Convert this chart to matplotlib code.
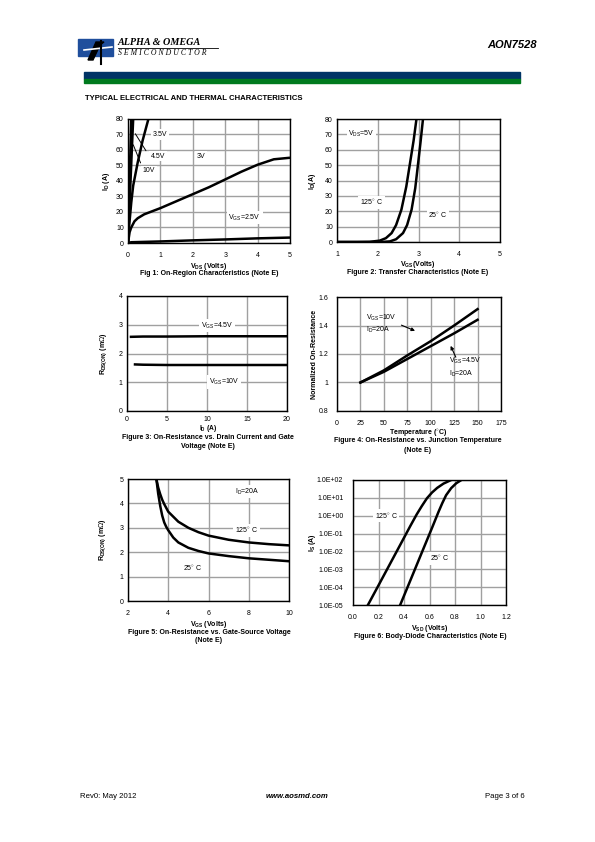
import numpy as np
import matplotlib
matplotlib.use("Agg")
import matplotlib.pyplot as plt
from matplotlib.patches import Rectangle, Polygon
from matplotlib.ticker import FixedLocator, FuncFormatter

plt.rcParams['font.family'] = ['Liberation Sans', 'DejaVu Sans']
plt.rcParams['mathtext.fontset'] = 'custom'
plt.rcParams['mathtext.rm'] = 'Liberation Sans'
plt.rcParams['mathtext.bf'] = 'Liberation Sans:bold'

# ---------------- data ----------------
# Fig 1: On-region characteristics
f1_vds_10v = [0, 0.03, 0.06, 0.1]
f1_id_10v = [0, 24, 48, 80]
f1_vds_45v = [0, 0.04, 0.08, 0.12, 0.16]
f1_id_45v = [0, 21, 41, 61, 80]
f1_vds_35v = [0, 0.04, 0.1, 0.16, 0.3, 0.45, 0.63]
f1_id_35v = [0, 12, 26, 37, 52, 66, 80]
f1_vds_3v = [0, 0.05, 0.1, 0.2, 0.3, 0.5, 1.0, 1.5, 2.0, 2.5, 3.0, 3.5, 4.0, 4.5, 5.0]
f1_id_3v = [0, 7, 10, 14, 16, 18.5, 22.5, 27, 31.5, 36, 41, 46, 50.5, 54, 55]
f1_vds_25v = [0, 0.1, 1, 2, 3, 4, 5]
f1_id_25v = [0, 0.5, 1.0, 1.7, 2.3, 3.0, 3.5]

# Fig 2: Transfer characteristics
f2_vgs_125 = [1.0, 1.5, 1.8, 2.05, 2.2, 2.34, 2.45, 2.58, 2.7, 2.79, 2.88, 2.95]
f2_id_125 = [0, 0, 0.1, 0.9, 2.5, 5.8, 11, 21, 36, 51, 66, 80]
f2_vgs_25 = [1.0, 1.8, 2.1, 2.3, 2.45, 2.62, 2.72, 2.83, 2.92, 2.99, 3.05, 3.11]
f2_id_25 = [0, 0, 0.05, 0.4, 1.8, 5.8, 11, 21, 35, 51, 65, 80]

# Fig 3: On-resistance vs drain current
f3_id_45v = [0.5, 2, 5, 10, 15, 20]
f3_r_45v = [2.58, 2.59, 2.59, 2.6, 2.6, 2.6]
f3_id_10v = [1, 2, 5, 10, 15, 20]
f3_r_10v = [1.62, 1.61, 1.6, 1.6, 1.6, 1.6]

# Fig 4: Normalized on-resistance vs temperature
f4_temp = [25, 50, 75, 100, 125, 150]
f4_r_10v = [1.0, 1.085, 1.19, 1.29, 1.40, 1.515]
f4_r_45v = [1.0, 1.075, 1.165, 1.255, 1.345, 1.44]

# Fig 5: On-resistance vs gate-source voltage
f5_vgs_125 = [3.41, 3.5, 3.6, 3.7, 3.8, 4.0, 4.5, 5.0, 5.5, 6.0, 7.0, 8.0, 9.0, 10.0]
f5_r_125 = [5.0, 4.65, 4.38, 4.15, 3.97, 3.66, 3.25, 3.0, 2.82, 2.68, 2.51, 2.4, 2.33, 2.28]
f5_vgs_25 = [3.41, 3.5, 3.6, 3.7, 3.8, 3.9, 4.0, 4.25, 4.5, 5.0, 5.5, 6.0, 7.0, 8.0, 9.0, 10.0]
f5_r_25 = [5.0, 4.4, 3.9, 3.5, 3.22, 3.04, 2.9, 2.6, 2.4, 2.18, 2.05, 1.95, 1.84, 1.75, 1.69, 1.63]

# Fig 6: Body-diode characteristics
f6_vsd_125 = [0.117, 0.2, 0.3, 0.4, 0.45, 0.5, 0.54, 0.58, 0.62, 0.66, 0.71, 0.77]
f6_is_125 = [1e-5, 1.26e-4, 2.7e-3, 5.8e-2, 2.7e-1, 1.2, 3.5, 9.5, 2.0e1, 3.6e1, 6.3e1, 1e2]
f6_vsd_25 = [0.37, 0.45, 0.55, 0.62, 0.67, 0.7, 0.73, 0.77, 0.81, 0.85]
f6_is_25 = [1e-5, 2.4e-4, 1.3e-2, 2.1e-1, 1.6, 5.0, 1.4e1, 3.5e1, 6.6e1, 1e2]

f6_yticks = [1e-5, 1e-4, 1e-3, 1e-2, 1e-1, 1e0, 1e1, 1e2]
f6_ylabels = ['1.0E-05', '1.0E-04', '1.0E-03', '1.0E-02', '1.0E-01', '1.0E+00', '1.0E+01', '1.0E+02']

# ---------------- figure ----------------
W, H = 595, 842
fig = plt.figure(figsize=(W / 100, H / 100), dpi=100)

def px(x, y):
    return x / W, 1 - y / H

def add_ax(l, t, r, b):
    return fig.add_axes([l / W, 1 - b / H, (r - l) / W, (b - t) / H])

def ftext(x, y, s, **kw):
    fx, fy = px(x, y)
    kw.setdefault('fontsize', 5)
    kw.setdefault('va', 'center')
    fig.text(fx, fy, s, **kw)

GRID = '#a0a0a0'
LW = 1.8
TFS = 5
BOX = dict(boxstyle='square,pad=0.25', fc='white', ec='none')

def style(ax):
    ax.grid(True, color=GRID, lw=1.0)
    ax.set_axisbelow(True)
    for s in ax.spines.values():
        s.set_linewidth(1.0)
        s.set_color('black')
    ax.tick_params(length=0, labelsize=TFS, pad=3)
    ax.tick_params(axis='x', pad=6.5)

# Header
ax_logo = fig.add_axes([0, 0, 1, 1], zorder=-1)
ax_logo.set_xlim(0, W); ax_logo.set_ylim(H, 0); ax_logo.axis('off')
ax_logo.add_patch(Rectangle((78, 39), 35, 17, color='#1f4e9c'))
ax_logo.add_patch(Polygon([[88, 60], [96, 42], [104, 42], [100, 45], [93, 60]], closed=True, color='black'))
ax_logo.plot([84, 112], [50, 47], color='white', lw=1.2)
ax_logo.plot([101, 101], [41, 64], color='black', lw=1.5)
ax_logo.add_patch(Rectangle((84, 72.3), 436, 6.8, color='#003366'))
ax_logo.add_patch(Rectangle((84, 79.1), 436, 3.6, color='#007a1e'))
ax_logo.plot([118, 218], [47.6, 47.6], color='black', lw=0.6)

ftext(118, 42.5, 'ALPHA & OMEGA', fontsize=7.3, fontweight='bold', fontstyle='italic',
      family='Liberation Serif')
ftext(118, 53, 'S E M I C O N D U C T O R', fontsize=5.6, fontstyle='italic',
      family='Liberation Serif')
ftext(537, 45, 'AON7528', fontsize=8, fontweight='bold', fontstyle='italic', ha='right')
ftext(85, 98, 'TYPICAL ELECTRICAL AND THERMAL CHARACTERISTICS', fontsize=5.6, fontweight='bold')

# Footer
ftext(80, 797, 'Rev0: May 2012', fontsize=5.6)
ftext(297, 797, 'www.aosmd.com', fontsize=5.6, fontweight='bold', fontstyle='italic', ha='center')
ftext(525, 797, 'Page 3 of 6', fontsize=5.6, ha='right')

# ---- Fig 1 ----
ax1 = add_ax(128, 119, 290, 243)
style(ax1)
ax1.set_xlim(0, 5); ax1.set_ylim(0, 80)
ax1.set_xticks(range(0, 6)); ax1.set_yticks(range(0, 81, 10))
for xs, ys in [(f1_vds_10v, f1_id_10v), (f1_vds_45v, f1_id_45v), (f1_vds_35v, f1_id_35v),
               (f1_vds_3v, f1_id_3v), (f1_vds_25v, f1_id_25v)]:
    ax1.plot(xs, ys, color='black', lw=LW, solid_capstyle='butt')
ax1.annotate('', xy=(0.18, 72), xytext=(0.6, 58), arrowprops=dict(arrowstyle='-', lw=0.7, color='black'))
ax1.annotate('', xy=(0.13, 65), xytext=(0.42, 50), arrowprops=dict(arrowstyle='-', lw=0.7, color='black'))
ax1.text(1.0, 70, '3.5V', fontsize=TFS, ha='center', va='center', bbox=BOX)
ax1.text(0.92, 56, '4.5V', fontsize=TFS, ha='center', va='center', bbox=BOX)
ax1.text(0.64, 46.5, '10V', fontsize=TFS, ha='center', va='center', bbox=BOX)
ax1.text(2.25, 56, '3V', fontsize=TFS, ha='center', va='center', bbox=BOX)
ax1.text(3.6, 16.5, r'V$_{\mathregular{GS}}$=2.5V', fontsize=TFS, ha='center', va='center', bbox=BOX)
ftext(106, 181, r'I$_{\mathbf{D}}$ (A)', rotation=90, ha='center', fontweight='bold')
ftext(209, 266, r'V$_{\mathbf{DS}}$ (Volts)', ha='center', fontweight='bold')
ftext(209, 273.5, 'Fig 1: On-Region Characteristics (Note E)', ha='center', fontweight='bold')

# ---- Fig 2 ----
ax2 = add_ax(337, 119, 500, 242)
style(ax2)
ax2.set_xlim(1, 5); ax2.set_ylim(0, 80)
ax2.set_xticks(range(1, 6)); ax2.set_yticks(range(0, 81, 10))
ax2.plot(f2_vgs_125, f2_id_125, color='black', lw=LW)
ax2.plot(f2_vgs_25, f2_id_25, color='black', lw=LW)
ax2.text(1.6, 70, r'V$_{\mathregular{DS}}$=5V', fontsize=TFS, ha='center', va='center', bbox=BOX)
ax2.text(1.85, 25.7, '125$^{\\circ}$ C', fontsize=TFS, ha='center', va='center', bbox=BOX)
ax2.text(3.48, 17.7, '25$^{\\circ}$ C', fontsize=TFS, ha='center', va='center', bbox=BOX)
ftext(312, 181, r'I$_{\mathbf{D}}$(A)', rotation=90, ha='center', fontweight='bold')
ftext(418, 264, r'V$_{\mathbf{GS}}$(Volts)', ha='center', fontweight='bold')
ftext(418, 272, 'Figure 2: Transfer Characteristics (Note E)', ha='center', fontweight='bold')

# ---- Fig 3 ----
ax3 = add_ax(127, 296, 287, 411)
style(ax3)
ax3.set_xlim(0, 20); ax3.set_ylim(0, 4)
ax3.set_xticks(range(0, 21, 5)); ax3.set_yticks(range(0, 5))
ax3.tick_params(axis='x', pad=3.8)
ax3.plot(f3_id_45v, f3_r_45v, color='black', lw=LW)
ax3.plot(f3_id_10v, f3_r_10v, color='black', lw=LW)
ax3.text(11.3, 2.97, r'V$_{\mathregular{GS}}$=4.5V', fontsize=TFS, ha='center', va='center', bbox=BOX)
ax3.text(12.1, 1.0, r'V$_{\mathregular{GS}}$=10V', fontsize=TFS, ha='center', va='center', bbox=BOX)
ftext(104, 354, r'R$_{\mathbf{DS(ON)}}$ (m$\Omega$)', rotation=90, ha='center', fontweight='bold')
ftext(208, 429, r'I$_{\mathbf{D}}$ (A)', ha='center', fontweight='bold', fontsize=4.8)
ftext(208, 438, 'Figure 3: On-Resistance vs. Drain Current and Gate', ha='center', fontweight='bold')
ftext(208, 446, 'Voltage (Note E)', ha='center', fontweight='bold')

# ---- Fig 4 ----
ax4 = add_ax(337, 297, 501, 411)
style(ax4)
ax4.set_xlim(0, 175); ax4.set_ylim(0.8, 1.6)
ax4.set_xticks(range(0, 176, 25)); ax4.set_yticks([0.8, 1.0, 1.2, 1.4, 1.6])
ax4.yaxis.set_major_formatter(FuncFormatter(lambda v, p: ('%g' % round(v, 1)) if abs(v - 1) > 1e-9 else '1'))
ax4.tick_params(axis='y', pad=6)
ax4.plot(f4_temp, f4_r_10v, color='black', lw=LW)
ax4.plot(f4_temp, f4_r_45v, color='black', lw=LW)
ax4.text(31, 1.41, 'V$_{\\mathregular{GS}}$=10V\nI$_{\\mathregular{D}}$=20A', fontsize=TFS,
         ha='left', va='center', linespacing=1.3)
ax4.annotate('', xy=(86, 1.355), xytext=(66, 1.41),
             arrowprops=dict(arrowstyle='-|>', lw=0.8, color='black', mutation_scale=5))
ax4.text(120, 1.105, 'V$_{\\mathregular{GS}}$=4.5V\nI$_{\\mathregular{D}}$=20A', fontsize=TFS,
         ha='left', va='center', linespacing=1.3)
ax4.annotate('', xy=(120, 1.275), xytext=(128, 1.16),
             arrowprops=dict(arrowstyle='-|>', lw=0.8, color='black', mutation_scale=5))
ftext(315, 354, 'Normalized On-Resistance', rotation=90, ha='center', fontweight='bold')
ftext(418, 433, 'Temperature ($^{\\circ}$C)', ha='center', fontweight='bold')
ftext(418, 441, 'Figure 4: On-Resistance vs. Junction Temperature', ha='center', fontweight='bold')
ftext(418, 450, '(Note E)', ha='center', fontweight='bold')

# ---- Fig 5 ----
ax5 = add_ax(128, 479, 289, 601)
style(ax5)
ax5.set_xlim(2, 10); ax5.set_ylim(0, 5)
ax5.set_xticks(range(2, 11, 2)); ax5.set_yticks(range(0, 6))
ax5.plot(f5_vgs_125, f5_r_125, color='black', lw=LW)
ax5.plot(f5_vgs_25, f5_r_25, color='black', lw=LW)
ax5.text(7.9, 4.49, r'I$_{\mathregular{D}}$=20A', fontsize=TFS, ha='center', va='center', bbox=BOX)
ax5.text(7.9, 2.9, '125$^{\\circ}$ C', fontsize=TFS, ha='center', va='center', bbox=BOX)
ax5.text(5.2, 1.34, '25$^{\\circ}$ C', fontsize=TFS, ha='center', va='center', bbox=BOX)
ftext(103, 540, r'R$_{\mathbf{DS(ON)}}$ (m$\Omega$)', rotation=90, ha='center', fontweight='bold')
ftext(209, 624, r'V$_{\mathbf{GS}}$ (Volts)', ha='center', fontweight='bold')
ftext(209, 632, 'Figure 5: On-Resistance vs. Gate-Source Voltage', ha='center', fontweight='bold')
ftext(209, 640.5, '(Note E)', ha='center', fontweight='bold')

# ---- Fig 6 ----
ax6 = add_ax(353, 480, 506, 605)
style(ax6)
ax6.set_yscale('log')
ax6.set_xlim(0, 1.2); ax6.set_ylim(1e-5, 1e2)
ax6.set_xticks(np.arange(0, 1.21, 0.2))
ax6.xaxis.set_major_formatter(FuncFormatter(lambda v, p: '%.1f' % v))
ax6.yaxis.set_major_locator(FixedLocator(f6_yticks))
ax6.set_yticklabels(f6_ylabels)
ax6.yaxis.set_minor_locator(FixedLocator([]))
ax6.tick_params(axis='y', pad=7)
ax6.plot(f6_vsd_125, f6_is_125, color='black', lw=LW)
ax6.plot(f6_vsd_25, f6_is_25, color='black', lw=LW)
ax6.text(0.26, 1.0, '125$^{\\circ}$ C', fontsize=TFS, ha='center', va='center', bbox=BOX)
ax6.text(0.68, 4e-3, '25$^{\\circ}$ C', fontsize=TFS, ha='center', va='center', bbox=BOX)
ftext(313, 543, r'I$_{\mathbf{S}}$ (A)', rotation=90, ha='center', fontweight='bold')
ftext(430, 629, r'V$_{\mathbf{SD}}$ (Volts)', ha='center', fontweight='bold')
ftext(430, 637, 'Figure 6: Body-Diode Characteristics (Note E)', ha='center', fontweight='bold')

fig.savefig('out.png', dpi=100)
